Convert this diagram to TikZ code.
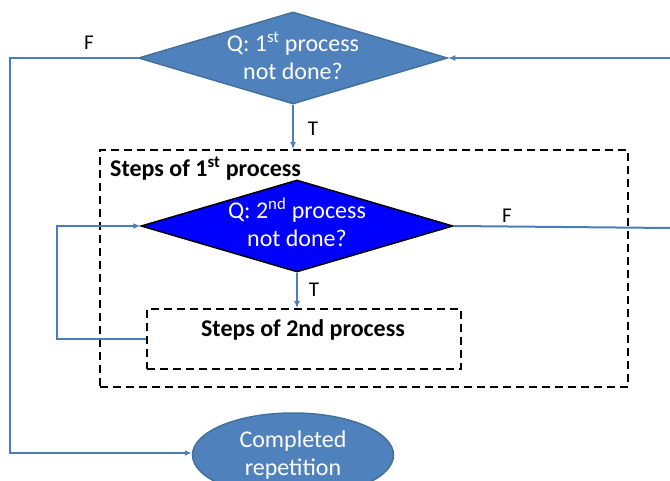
\documentclass[tikz,border=0pt]{standalone}
\usepackage{fontspec}
\setmainfont{Carlito}
\usetikzlibrary{shapes.geometric,arrows.meta}
\definecolor{flowblue}{HTML}{4F81BD}
\definecolor{flowedge}{HTML}{41719C}
\definecolor{wire}{HTML}{4A7EBB}
\tikzset{
  decision/.style={diamond, inner sep=0pt, align=center, text=white,
    font=\fontsize{24}{28}\selectfont},
  wirepath/.style={draw=wire, line width=2pt},
  wirearrow/.style={wirepath, -{Latex[length=7pt,width=6pt]}},
  groupbox/.style={draw=black, line width=1.8pt, dash pattern=on 8pt off 5pt},
  branch/.style={font=\fontsize{21}{24}\selectfont, inner sep=0pt},
  heading/.style={font=\bfseries\fontsize{24}{28}\selectfont, inner sep=0pt},
}
% two centred lines whose box takes no room, lowered by #1, so the shape keeps its given size
\newcommand\flattext[2]{\makebox[0pt]{\smash{\raisebox{-#1}{\begin{tabular}{@{}c@{}}#2\end{tabular}}}}}
\begin{document}
\begin{tikzpicture}[x=1pt,y=-1pt]
\useasboundingbox (0,0) rectangle (670,481);

% outer decision
\node[decision, fill=flowblue, draw=flowedge, line width=1.5pt,
      minimum width=309pt, minimum height=92pt] (d1) at (293,58)
  {\flattext{8pt}{Q: 1\textsuperscript{st} process\\not done?}};

% dashed group of the first process
\node[groupbox, minimum width=528pt, minimum height=237pt] (box1) at (364,268.5) {};
\node[heading, anchor=base west] (h1) at (110,177) {Steps of 1\textsuperscript{st} process};

% inner decision
\node[decision, fill=blue, draw=black, line width=1.5pt,
      minimum width=312pt, minimum height=92pt] (d2) at (297,226)
  {\flattext{7pt}{Q: 2\textsuperscript{nd} process\\not done?}};

% dashed group of the second process
\node[groupbox, minimum width=314pt, minimum height=60pt] (box2) at (304,339) {};
\node[heading, anchor=base] (h2) at (303,337) {Steps of 2nd process};

% terminal
\node[ellipse, fill=flowblue, draw=flowedge, line width=1.5pt, text=white,
      minimum width=201pt, minimum height=84pt, inner sep=0pt, align=center,
      font=\fontsize{24}{28}\selectfont] (end) at (293,455)
  {\flattext{7pt}{Completed\\repetition}};

% connector end points
\coordinate (lt) at (10,58);
\coordinate (lp) at (57,339);
\coordinate (rin) at (670,58);
\coordinate (rout) at (670,228);

% connectors
\draw[wirearrow] (d1.south) -- (d1.south |- box1.north);
\draw[wirearrow] (d1.west) -- (lt) -- (10,453) -- (end.west |- 0,453);
\draw[wirearrow] (rin) -- (d1.east);
\draw[wirepath] (d2.east) -- (rout);
\draw[wirearrow] (d2.south) -- (d2.south |- box2.north);
\draw[wirearrow] (box2.west) -- (lp) -- (lp |- d2.west) -- (d2.west);

% branch labels
\node[branch] (f1) at (89,43) {F};
\node[branch] (t1) at (313,129) {T};
\node[branch] (f2) at (507,216) {F};
\node[branch] (t2) at (314,290) {T};
\end{tikzpicture}
\end{document}
